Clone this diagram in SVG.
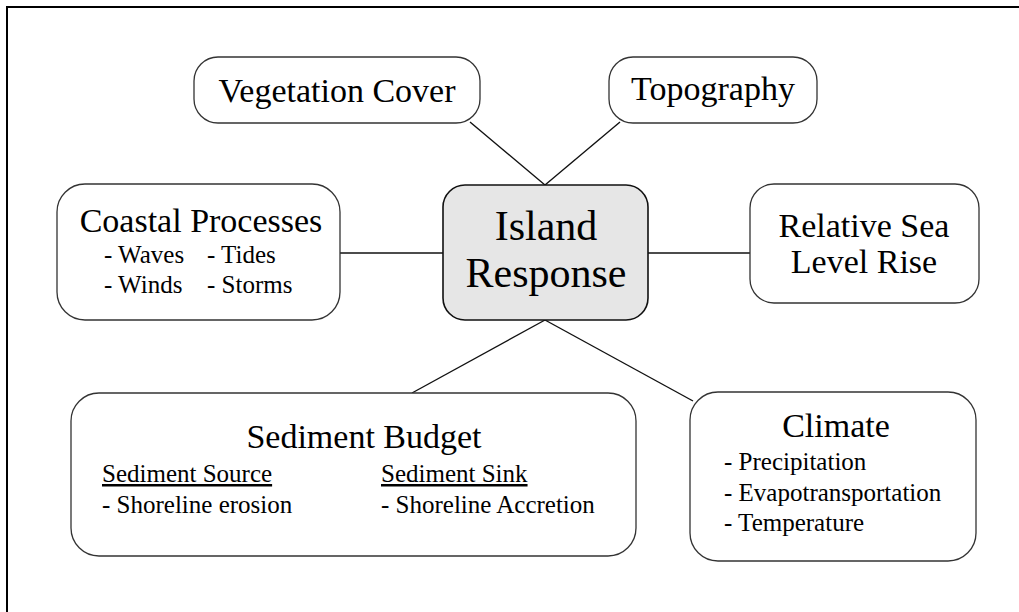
<svg xmlns="http://www.w3.org/2000/svg" width="1019" height="612" viewBox="0 0 1019 612">
<style>
.box{fill:#fff;stroke:#333;stroke-width:1.3}
.hub{fill:#e6e6e6;stroke:#111;stroke-width:1.6}
text{font-family:"Liberation Serif","Times New Roman",serif;fill:#000}
.t{font-size:34px;text-anchor:middle}
.big{font-size:42px;text-anchor:middle}
.s{font-size:25px}
.con line{stroke:#111;stroke-width:1.4}
</style>
<rect width="1019" height="612" fill="#fff"/>
<rect x="7" y="7" width="1040" height="640" fill="none" stroke="#000" stroke-width="2"/>
<g class="con" id="connectors">
<line x1="470" y1="122" x2="545" y2="185"/>
<line x1="620" y1="122" x2="545" y2="185"/>
<line x1="340" y1="253" x2="443" y2="253"/>
<line x1="648" y1="253" x2="750" y2="253"/>
<line x1="545" y1="320" x2="412" y2="393"/>
<line x1="545" y1="320" x2="693" y2="401"/>
</g>
<g id="vegetation">
<rect class="box" x="194" y="57" width="286" height="66" rx="24"/>
<text class="t" x="337" y="102">Vegetation Cover</text>
</g>
<g id="topography">
<rect class="box" x="609" y="57" width="208" height="66" rx="24"/>
<text class="t" x="713" y="100">Topography</text>
</g>
<g id="coastal">
<rect class="box" x="57" y="184" width="283" height="136" rx="28"/>
<text class="t" x="201" y="232">Coastal Processes</text>
<text class="s" x="104" y="263">- Waves</text>
<text class="s" x="207" y="263">- Tides</text>
<text class="s" x="104" y="293">- Winds</text>
<text class="s" x="207" y="293">- Storms</text>
</g>
<g id="island">
<rect class="hub" x="443" y="185" width="205" height="135" rx="22"/>
<text class="big" x="546" y="240">Island</text>
<text class="big" x="546" y="287">Response</text>
</g>
<g id="sealevel">
<rect class="box" x="750" y="184" width="229" height="119" rx="24"/>
<text class="t" x="864" y="237">Relative Sea</text>
<text class="t" x="864" y="273">Level Rise</text>
</g>
<g id="sediment">
<rect class="box" x="71" y="393" width="565" height="163" rx="28"/>
<text class="t" x="364" y="448">Sediment Budget</text>
<text class="s" x="102" y="482" text-decoration="underline">Sediment Source</text>
<text class="s" x="381" y="482" text-decoration="underline">Sediment Sink</text>
<text class="s" x="102" y="513">- Shoreline erosion</text>
<text class="s" x="381" y="513">- Shoreline Accretion</text>
</g>
<g id="climate">
<rect class="box" x="690" y="392" width="286" height="169" rx="28"/>
<text class="t" x="836" y="437">Climate</text>
<text class="s" x="724" y="470">- Precipitation</text>
<text class="s" x="724" y="501">- Evapotransportation</text>
<text class="s" x="724" y="531">- Temperature</text>
</g>
</svg>
